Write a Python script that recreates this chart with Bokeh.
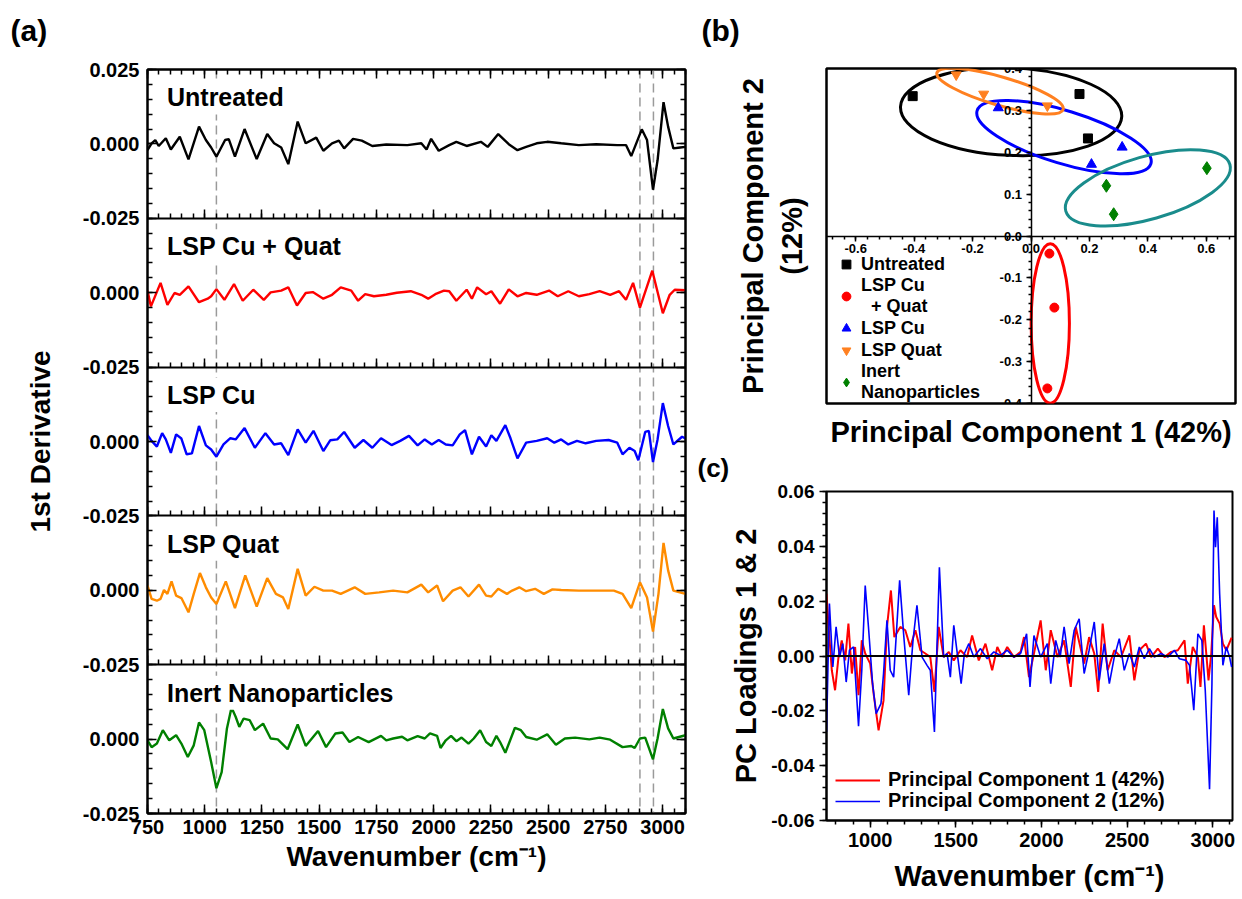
import math
from bokeh.plotting import figure
from bokeh.models import (Range1d, LinearAxis, FixedTicker, Span, Label, Legend, LegendItem,
                          ColumnDataSource, NumeralTickFormatter)
from bokeh.layouts import row, column
from bokeh.transform import dodge
from bokeh.embed import file_html
from bokeh.resources import INLINE

FONT = "Liberation Sans"

# ---------------- Panel (a): 1st derivative spectra ----------------
wn_untreated = [750, 768, 784, 799, 830, 852, 891, 929, 975, 1005, 1028, 1051, 1089, 1105, 1132, 1174, 1227, 1273, 1303, 1334,
                1365, 1406, 1441, 1487, 1518, 1556, 1586, 1609, 1648, 1686, 1732, 1793, 1885, 1946, 1969, 1989, 2022, 2068, 2099, 2144,
                2206, 2236, 2282, 2328, 2366, 2404, 2450, 2496, 2557, 2634, 2710, 2802, 2840, 2863, 2909, 2932, 2958, 2978, 3004, 3024,
                3047, 3077, 3100]
d_untreated = [-0.0021, 0.0002, 0.0013, -0.0007, 0.0019, -0.0019, 0.0024, -0.0052, 0.0058, 0.0013,
               -0.0012, -0.0043, 0.0013, 0.0016, -0.0043, 0.0050, -0.0051, 0.0033, 0.0002, -0.0012,
               -0.0068, 0.0075, 0.0002, 0.0021, -0.0023, 0.0002, 0.0011, -0.0015, 0.0017, 0.0011,
               -0.0007, -0.0002, -0.0004, 0.0002, -0.0019, 0.0017, -0.0023, -0.0004, 0.0007, -0.0007,
               0.0007, -0.0010, 0.0033, -0.0001, -0.0021, -0.0010, 0.0002, 0.0007, 0.0002, -0.0004,
               -0.0001, -0.0004, -0.0004, -0.0041, 0.0049, 0.0013, -0.0154, -0.0055, 0.0140, 0.0058,
               -0.0015, -0.0012, -0.0010]

wn_cuquat = [750, 765, 807, 837, 868, 891, 929, 975, 1013, 1028, 1051, 1086, 1128, 1166, 1212, 1258, 1288, 1334, 1365, 1403,
             1441, 1472, 1518, 1556, 1594, 1640, 1670, 1701, 1739, 1793, 1839, 1900, 1946, 1976, 2007, 2045, 2068, 2099, 2144, 2167,
             2190, 2229, 2252, 2290, 2328, 2366, 2404, 2450, 2504, 2542, 2588, 2634, 2680, 2725, 2771, 2810, 2840, 2871, 2901, 2955,
             3001, 3031, 3053, 3100]
d_cuquat = [0.0007, -0.0046, 0.0033, -0.0041, -0.0001, -0.0007, 0.0021, -0.0032, -0.0020, -0.0012,
            0.0012, -0.0024, 0.0029, -0.0027, 0.0010, -0.0024, 0.0001, 0.0007, 0.0018, -0.0043,
            -0.0001, 0.0002, -0.0020, -0.0007, 0.0018, 0.0007, -0.0027, -0.0005, -0.0012, -0.0007,
            0.0000, 0.0005, -0.0007, -0.0020, -0.0005, 0.0007, 0.0005, -0.0027, 0.0010, -0.0020,
            0.0018, -0.0005, 0.0005, -0.0037, 0.0011, -0.0012, -0.0001, -0.0007, 0.0007, -0.0012,
            0.0005, -0.0012, -0.0005, 0.0005, -0.0007, 0.0005, -0.0024, 0.0033, -0.0050, 0.0074,
            -0.0069, -0.0007, 0.0010, 0.0008]

wn_cu = [750, 768, 791, 814, 830, 852, 875, 898, 921, 944, 975, 1005, 1028, 1051, 1082, 1112, 1135, 1174, 1219, 1265,
         1303, 1334, 1365, 1406, 1441, 1475, 1518, 1548, 1579, 1609, 1655, 1693, 1732, 1770, 1816, 1854, 1892, 1930, 1961, 1992,
         2022, 2053, 2083, 2114, 2137, 2167, 2198, 2229, 2252, 2274, 2313, 2336, 2366, 2404, 2450, 2496, 2527, 2557, 2588, 2626,
         2664, 2710, 2764, 2802, 2825, 2855, 2878, 2894, 2924, 2940, 2958, 2978, 3001, 3024, 3047, 3085, 3100]
d_cu = [0.0021, 0.0002, -0.0017, 0.0028, 0.0007, -0.0038, 0.0024, 0.0010, -0.0043, -0.0040,
        0.0052, -0.0013, -0.0027, -0.0051, -0.0010, 0.0011, 0.0007, 0.0045, -0.0021, 0.0028,
        -0.0010, -0.0006, -0.0046, 0.0041, -0.0004, 0.0036, -0.0032, 0.0004, 0.0007, 0.0032,
        -0.0021, 0.0005, -0.0021, 0.0011, -0.0012, 0.0002, 0.0019, -0.0013, 0.0007, -0.0010,
        0.0005, -0.0010, -0.0013, 0.0024, 0.0038, -0.0043, 0.0016, -0.0017, 0.0021, 0.0002,
        0.0055, 0.0010, -0.0057, -0.0004, 0.0002, 0.0011, -0.0004, 0.0007, -0.0010, 0.0002,
        -0.0006, 0.0002, 0.0005, -0.0004, -0.0043, -0.0021, -0.0032, -0.0063, 0.0032, 0.0036,
        -0.0069, 0.0007, 0.0129, 0.0052, -0.0010, 0.0016, 0.0010]

wn_quat = [750, 768, 791, 807, 822, 837, 855, 875, 898, 929, 952, 979, 1005, 1028, 1051, 1092, 1132, 1177, 1227, 1273,
           1311, 1342, 1365, 1406, 1441, 1479, 1518, 1556, 1594, 1655, 1701, 1762, 1823, 1885, 1946, 1976, 2015, 2041, 2083, 2117,
           2152, 2198, 2229, 2252, 2282, 2320, 2343, 2374, 2404, 2443, 2481, 2519, 2557, 2634, 2710, 2787, 2825, 2863, 2901, 2932,
           2958, 2982, 3004, 3024, 3047, 3100]
d_quat = [0.0016, -0.0029, -0.0035, -0.0029, 0.0001, -0.0012, 0.0030, -0.0018, -0.0026, -0.0074,
          -0.0012, 0.0058, 0.0010, -0.0024, -0.0046, 0.0030, -0.0060, 0.0050, -0.0055, 0.0041,
          -0.0012, -0.0024, -0.0063, 0.0072, -0.0018, 0.0012, -0.0001, -0.0001, -0.0012, 0.0010,
          -0.0012, -0.0007, -0.0001, -0.0007, 0.0019, -0.0007, 0.0016, -0.0037, -0.0001, 0.0010,
          -0.0021, 0.0019, -0.0018, -0.0021, 0.0005, -0.0012, -0.0001, 0.0010, -0.0003, 0.0005,
          -0.0012, 0.0003, 0.0001, -0.0001, -0.0001, -0.0001, -0.0012, -0.0060, 0.0027, -0.0024,
          -0.0139, -0.0012, 0.0159, 0.0067, -0.0001, -0.0012]

wn_inert = [750, 768, 791, 817, 845, 875, 898, 926, 952, 975, 998, 1028, 1051, 1074, 1097, 1117, 1135, 1151, 1170, 1196,
            1219, 1255, 1288, 1319, 1362, 1406, 1441, 1495, 1530, 1571, 1602, 1632, 1670, 1716, 1770, 1793, 1823, 1862, 1885, 1930,
            1961, 1984, 2015, 2030, 2053, 2076, 2099, 2122, 2152, 2175, 2203, 2229, 2252, 2274, 2290, 2313, 2355, 2381, 2404, 2450,
            2496, 2534, 2573, 2618, 2680, 2725, 2771, 2825, 2863, 2878, 2901, 2924, 2958, 2978, 3001, 3024, 3047, 3100]
d_inert = [-0.0004, -0.0027, -0.0015, 0.0030, -0.0004, 0.0013, -0.0015, -0.0060, -0.0021, 0.0056,
           0.0030, -0.0077, -0.0165, -0.0111, 0.0036, 0.0106, 0.0075, 0.0041, 0.0069, 0.0064,
           0.0030, 0.0052, 0.0002, -0.0001, -0.0034, 0.0049, -0.0023, 0.0027, -0.0027, 0.0019,
           0.0022, -0.0010, 0.0007, -0.0010, 0.0011, -0.0004, 0.0002, 0.0008, -0.0004, 0.0010,
           0.0002, 0.0019, 0.0011, -0.0030, -0.0004, 0.0011, -0.0007, 0.0005, -0.0015, 0.0002,
           0.0030, -0.0010, -0.0023, 0.0011, -0.0010, -0.0046, 0.0038, 0.0030, 0.0007, -0.0002,
           0.0016, -0.0019, 0.0002, 0.0005, -0.0001, 0.0005, -0.0002, -0.0027, -0.0023, -0.0030,
           0.0002, 0.0005, -0.0068, 0.0002, 0.0101, 0.0036, 0.0002, 0.0013]

sample_names = ["Untreated", "LSP Cu + Quat", "LSP Cu", "LSP Quat", "Inert Nanoparticles"]
sample_colors = ["black", "#ff0000", "#0000ff", "#ff8c00", "#008000"]
marker_wavenumbers = [1051, 2901, 2960]
a_x_ticks = [750, 1000, 1250, 1500, 1750, 2000, 2250, 2500, 2750, 3000]

# ---------------- Panel (b): PCA scores ----------------
untreated_pc1 = [-0.405, 0.166, 0.195]
untreated_pc2 = [0.334, 0.339, 0.233]
cuquat_pc1 = [0.063, 0.080, 0.056]
cuquat_pc2 = [-0.042, -0.171, -0.364]
cu_pc1 = [-0.112, 0.207, 0.312]
cu_pc2 = [0.306, 0.171, 0.212]
quat_pc1 = [-0.256, -0.162, 0.056]
quat_pc2 = [0.385, 0.339, 0.311]
inert_pc1 = [0.258, 0.283, 0.602]
inert_pc2 = [0.120, 0.052, 0.162]

ellipse_cx = [-0.068, 0.066, 0.113, -0.106, 0.400]
ellipse_cy = [0.297, -0.209, 0.236, 0.346, 0.115]
ellipse_w = [0.758, 0.131, 0.622, 0.450, 0.584]
ellipse_h = [0.209, 0.381, 0.126, 0.068, 0.150]
ellipse_angle = [-0.045, 0.0, -0.297, -0.283, 0.277]
ellipse_colors = ["black", "#ff0000", "#0000ff", "#ff8020", "#1a8c8c"]

b_x_ticks = [-0.6, -0.4, -0.2, 0.0, 0.2, 0.4, 0.6]
b_y_ticks = [-0.4, -0.3, -0.2, -0.1, 0.0, 0.1, 0.2, 0.3, 0.4]

# ---------------- Panel (c): PC loadings ----------------
wn_pc1 = [745, 756, 776, 795, 815, 834, 854, 873, 893, 912, 932, 951, 971, 1000, 1020, 1049, 1078, 1098, 1121, 1141,
          1176, 1205, 1234, 1264, 1293, 1322, 1351, 1375, 1400, 1429, 1459, 1488, 1527, 1566, 1595, 1634, 1673, 1712, 1742, 1771,
          1800, 1839, 1878, 1898, 1927, 1956, 1995, 2025, 2054, 2093, 2132, 2171, 2200, 2249, 2278, 2308, 2331, 2357, 2386, 2425,
          2464, 2513, 2542, 2571, 2610, 2640, 2679, 2718, 2757, 2796, 2835, 2854, 2883, 2913, 2928, 2948, 2975, 2991, 3007, 3020,
          3040, 3059, 3079, 3110]
load_pc1 = [0.0227, 0.0118, -0.0052, -0.0125, -0.0004, 0.0057, -0.0016, 0.0118, -0.0064, 0.0033,
            -0.0143, 0.0057, 0.0009, -0.0028, -0.0137, -0.0271, -0.0162, 0.0106, 0.0239, 0.0069,
            0.0106, 0.0094, 0.0033, 0.0094, 0.0021, 0.0009, -0.0004, -0.0131, 0.0106, -0.0004,
            0.0015, -0.0016, 0.0021, -0.0004, 0.0075, -0.0016, 0.0045, -0.0052, 0.0033, -0.0004,
            0.0033, -0.0004, 0.0015, 0.0069, -0.0077, 0.0009, 0.0130, -0.0052, 0.0094, -0.0004,
            0.0057, -0.0113, 0.0106, -0.0028, 0.0069, 0.0009, -0.0131, 0.0118, -0.0052, 0.0021,
            -0.0004, 0.0075, -0.0089, 0.0021, 0.0045, -0.0004, 0.0027, -0.0004, 0.0015, 0.0021,
            0.0057, -0.0101, 0.0033, -0.0004, -0.0113, 0.0112, -0.0089, 0.0009, 0.0185, 0.0142,
            0.0118, 0.0045, 0.0021, 0.0067]

wn_pc2 = [745, 762, 782, 801, 821, 840, 860, 879, 903, 932, 951, 971, 990, 1014, 1035, 1063, 1078, 1098, 1117, 1137,
          1172, 1195, 1225, 1250, 1273, 1303, 1332, 1351, 1375, 1404, 1429, 1449, 1468, 1488, 1511, 1531, 1550, 1576, 1605, 1644,
          1683, 1722, 1761, 1800, 1839, 1878, 1913, 1933, 1956, 1995, 2034, 2054, 2083, 2109, 2132, 2161, 2191, 2220, 2249, 2278,
          2308, 2337, 2366, 2396, 2425, 2454, 2483, 2513, 2542, 2571, 2600, 2630, 2659, 2698, 2737, 2776, 2805, 2844, 2864, 2889,
          2913, 2936, 2956, 2981, 2995, 3007, 3016, 3026, 3040, 3059, 3079, 3098, 3110]
load_pc2 = [-0.0277, 0.0191, -0.0040, 0.0106, -0.0004, 0.0045, -0.0095, 0.0021, 0.0033, -0.0256,
            -0.0052, 0.0257, 0.0106, -0.0101, -0.0210, -0.0174, -0.0064, 0.0130, -0.0052, -0.0077,
            0.0276, 0.0081, -0.0143, 0.0057, 0.0185, -0.0004, -0.0034, -0.0052, -0.0277, 0.0324,
            -0.0004, 0.0009, -0.0077, 0.0112, -0.0004, -0.0101, 0.0009, 0.0045, -0.0004, 0.0027,
            -0.0010, 0.0015, 0.0002, 0.0021, -0.0004, 0.0009, 0.0081, -0.0113, 0.0075, -0.0004,
            0.0045, -0.0101, 0.0057, -0.0004, 0.0106, -0.0028, 0.0094, 0.0136, -0.0064, 0.0021,
            0.0124, -0.0089, 0.0045, -0.0101, -0.0004, 0.0063, -0.0052, 0.0009, -0.0040, 0.0033,
            -0.0010, 0.0027, -0.0004, 0.0009, -0.0004, 0.0021, -0.0010, -0.0016, -0.0034, -0.0198,
            0.0081, 0.0057, -0.0125, -0.0486, -0.0101, 0.0531, 0.0397, 0.0506, 0.0227, -0.0034,
            0.0033, -0.0004, -0.0040]

c_x_ticks = [1000, 1500, 2000, 2500, 3000]
c_y_ticks = [-0.06, -0.04, -0.02, 0.0, 0.02, 0.04, 0.06]


def style_axis(ax, size, show_labels=True, tick_in=0, tick_out=0, minor_in=0, minor_out=0, standoff=5):
    ax.axis_line_color = "black"
    ax.axis_line_width = 2
    ax.major_tick_line_color = "black"
    ax.major_tick_line_width = 1.5
    ax.minor_tick_line_color = "black"
    ax.minor_tick_line_width = 1.5
    ax.major_tick_in = tick_in
    ax.major_tick_out = tick_out
    ax.minor_tick_in = minor_in
    ax.minor_tick_out = minor_out
    ax.major_label_text_font = FONT
    ax.major_label_text_font_style = "bold"
    ax.major_label_text_color = "black"
    ax.major_label_text_font_size = size if show_labels else "0px"
    ax.major_label_standoff = standoff if show_labels else 0


def axis_title(ax, text, size, standoff):
    ax.axis_label = text
    ax.axis_label_text_font = FONT
    ax.axis_label_text_font_style = "bold"
    ax.axis_label_text_font_size = size
    ax.axis_label_text_color = "black"
    ax.axis_label_standoff = standoff


def hidden_axis(text=None, size="28px", standoff=0, gap=0):
    # invisible axis: carries an axis title, or (through an invisible tick length) reserves a gap
    ax = LinearAxis(axis_line_color=None, major_tick_line_color=None, minor_tick_line_color=None,
                    major_label_text_font_size="0px", major_label_standoff=0,
                    major_tick_in=0, major_tick_out=gap, minor_tick_in=0, minor_tick_out=0)
    if text:
        ax.ticker = FixedTicker(ticks=[], minor_ticks=[])
        axis_title(ax, text, size, standoff)
    return ax


def panel_title(p, text, size, offset):
    p.title.text = text
    p.title.align = "left"
    p.title.offset = offset
    p.title.standoff = 0
    p.title.text_font = FONT
    p.title.text_font_style = "bold"
    p.title.text_font_size = size
    p.title.text_color = "black"


def single_legend(label, renderer, loc, size, glyph_w):
    return Legend(items=[LegendItem(label=label, renderers=[renderer])], location=loc,
                  padding=0, margin=0, spacing=0, glyph_width=glyph_w, glyph_height=14,
                  label_standoff=8, border_line_color=None, background_fill_alpha=0,
                  label_text_font=FONT, label_text_font_style="bold", label_text_font_size=size,
                  label_text_color="black")


# ================= Panel (a) =================
n = len(sample_names)
band = 0.05
offsets = [round((n - 1 - i) * band, 3) for i in range(n)]
half = band / 2
pa = figure(x_range=Range1d(750, 3100), y_range=Range1d(-half, round(offsets[0] + half, 3)),
            frame_width=538, frame_height=744, min_border_left=147, min_border_right=5,
            min_border_top=69, min_border_bottom=86, output_backend="svg", toolbar_location=None)
pa.grid.visible = False
pa.outline_line_color = "black"
pa.outline_line_width = 2

xt_a = FixedTicker(ticks=a_x_ticks, minor_ticks=list(range(750, 3101, 50)))
y_major = sorted({round(o + d, 3) for o in offsets for d in (-half, 0.0, half)})
y_minor = [round(-half + 0.005 * k, 3) for k in range(int(round((offsets[0] + band) / 0.005)) + 1)]
yt_a = FixedTicker(ticks=y_major, minor_ticks=y_minor)
overrides = {}
for o in offsets:
    overrides[round(o + half, 3)] = "0.025"
for o in offsets:
    overrides[round(o, 3)] = "0.000"
    overrides[round(o - half, 3)] = "-0.025"

pa.xaxis[0].ticker = xt_a
style_axis(pa.xaxis[0], "20px", True, tick_in=9, minor_in=5, standoff=6)
axis_title(pa.xaxis[0], "Wavenumber (cm\u207b\u00b9)", "28px", 4)
pa.yaxis[0].ticker = yt_a
pa.yaxis[0].major_label_overrides = overrides
style_axis(pa.yaxis[0], "20px", True, tick_in=9, minor_in=5, standoff=8)
axis_title(pa.yaxis[0], "1st Derivative", "28px", 24)

ax_r = LinearAxis(ticker=yt_a)
style_axis(ax_r, "0px", False, tick_in=9, minor_in=5)
pa.add_layout(ax_r, "right")
ax_t = LinearAxis(ticker=xt_a)
style_axis(ax_t, "0px", False, tick_in=9, minor_in=5)
pa.add_layout(ax_t, "above")
pa.add_layout(hidden_axis(gap=23), "above")
for o in offsets[:-1]:
    ax_b = LinearAxis(ticker=xt_a, fixed_location=round(o - half, 3))
    style_axis(ax_b, "0px", False, tick_in=9, minor_in=5)
    pa.add_layout(ax_b, "below")

for loc in marker_wavenumbers:
    pa.add_layout(Span(location=loc, dimension="height", line_color="#9a9a9a",
                       line_dash="9 5", line_width=1.5, level="underlay"))

series = [(wn_untreated, d_untreated), (wn_cuquat, d_cuquat), (wn_cu, d_cu), (wn_quat, d_quat), (wn_inert, d_inert)]
for (wn, dv), off, color in zip(series, offsets, sample_colors):
    src = ColumnDataSource(dict(x=wn, y=dv))
    pa.line("x", dodge("y", off), source=src, line_color=color, line_width=2.4)

for name, off in zip(sample_names, offsets):
    pa.add_layout(Label(x=822, y=off + 0.0156, text=name, text_font=FONT, text_font_style="bold",
                        text_font_size="25px", text_baseline="middle", text_color="black",
                        background_fill_color="white", padding=3))

panel_title(pa, "(a)", "30px", -137)

# ================= Panel (b) =================
pb = figure(x_range=Range1d(-0.7, 0.7), y_range=Range1d(-0.4, 0.4),
            frame_width=409, frame_height=335, min_border_left=132, min_border_right=11,
            min_border_top=68, min_border_bottom=45, x_axis_location=None, y_axis_location=None,
            output_backend="svg", toolbar_location=None)
pb.grid.visible = False
pb.outline_line_color = "black"
pb.outline_line_width = 2.5

xax = LinearAxis(fixed_location=0, ticker=FixedTicker(ticks=b_x_ticks, minor_ticks=[round(-0.68 + 0.04 * k, 2) for k in range(35)]),
                 formatter=NumeralTickFormatter(format="0.0"))
style_axis(xax, "13px", True, tick_out=5, minor_out=3, standoff=3)
xax.axis_line_width = 1.5
pb.add_layout(xax, "below")
yax = LinearAxis(fixed_location=0, ticker=FixedTicker(ticks=b_y_ticks, minor_ticks=[round(-0.4 + 0.02 * k, 2) for k in range(41)]),
                 formatter=NumeralTickFormatter(format="0.0"))
style_axis(yax, "13px", True, tick_out=5, minor_out=3, standoff=4)
yax.axis_line_width = 1.5
pb.add_layout(yax, "left")

pb.add_layout(hidden_axis("Principal Component 1 (42%)", "29px", 12), "below")
pb.add_layout(hidden_axis("Principal Component 2\n(12%)", "29px", 19), "left")
pb.add_layout(hidden_axis(gap=22), "above")

esrc = ColumnDataSource(dict(x=ellipse_cx, y=ellipse_cy, w=ellipse_w, h=ellipse_h, a=ellipse_angle, c=ellipse_colors))
pb.ellipse(x="x", y="y", width="w", height="h", angle="a", source=esrc, fill_color=None, line_color="c", line_width=3)

r_unt = pb.scatter(untreated_pc1, untreated_pc2, marker="square", size=9, color="black")
r_cq = pb.scatter(cuquat_pc1, cuquat_pc2, marker="circle", size=9, color="#ff0000")
r_cu = pb.scatter(cu_pc1, cu_pc2, marker="triangle", size=10, color="#0000ff")
r_q = pb.scatter(quat_pc1, quat_pc2, marker="inverted_triangle", size=10, color="#ff8020")
r_in = pb.scatter(inert_pc1, inert_pc2, marker="diamond", size=13, color="#008000")

leg_b = Legend(items=[LegendItem(label="Untreated", renderers=[r_unt]),
                      LegendItem(label="LSP Cu\n  + Quat", renderers=[r_cq]),
                      LegendItem(label="LSP Cu", renderers=[r_cu]),
                      LegendItem(label="LSP Quat", renderers=[r_q]),
                      LegendItem(label="Inert\nNanoparticles", renderers=[r_in])],
               location=(9, 0), padding=0, margin=0, spacing=0, glyph_width=22, glyph_height=22,
               label_standoff=4, border_line_color=None, background_fill_alpha=0,
               label_text_font=FONT, label_text_font_style="bold", label_text_font_size="18px",
               label_text_color="black", label_height=18)
pb.add_layout(leg_b)

panel_title(pb, "(b)", "30px", -125)

# ================= Panel (c) =================
pc = figure(x_range=Range1d(745, 3115), y_range=Range1d(-0.06, 0.06),
            frame_width=406, frame_height=329, min_border_left=136, min_border_right=10,
            min_border_top=40, min_border_bottom=82, output_backend="svg", toolbar_location=None)
pc.grid.visible = False
pc.outline_line_color = "black"
pc.outline_line_width = 2
pc.xaxis[0].ticker = FixedTicker(ticks=c_x_ticks, minor_ticks=list(range(800, 3101, 100)))
style_axis(pc.xaxis[0], "20px", True, tick_out=7, minor_out=4, standoff=5)
axis_title(pc.xaxis[0], "Wavenumber (cm\u207b\u00b9)", "29px", 10)
pc.yaxis[0].ticker = FixedTicker(ticks=c_y_ticks, minor_ticks=[round(-0.06 + 0.004 * k, 3) for k in range(31)])
pc.yaxis[0].formatter = NumeralTickFormatter(format="0.00")
style_axis(pc.yaxis[0], "19px", True, tick_out=7, minor_out=4, standoff=5)
axis_title(pc.yaxis[0], "PC Loadings 1 & 2", "29px", 6)
pc.add_layout(hidden_axis(gap=9), "above")

pc.add_layout(Span(location=0, dimension="width", line_color="black", line_width=2))
r1 = pc.line(wn_pc1, load_pc1, line_color="#ff0000", line_width=2)
r2 = pc.line(wn_pc2, load_pc2, line_color="#0000ff", line_width=1.6)
pc.add_layout(single_legend("Principal Component 1 (42%)", r1, (9, 29), "20px", 45))
pc.add_layout(single_legend("Principal Component 2 (12%)", r2, (9, 8), "20px", 45))

panel_title(pc, "(c)", "26px", -129)

layout = row(pa, column(pb, pc, spacing=0), spacing=0)
open("out.html", "w").write(file_html(layout, INLINE))
